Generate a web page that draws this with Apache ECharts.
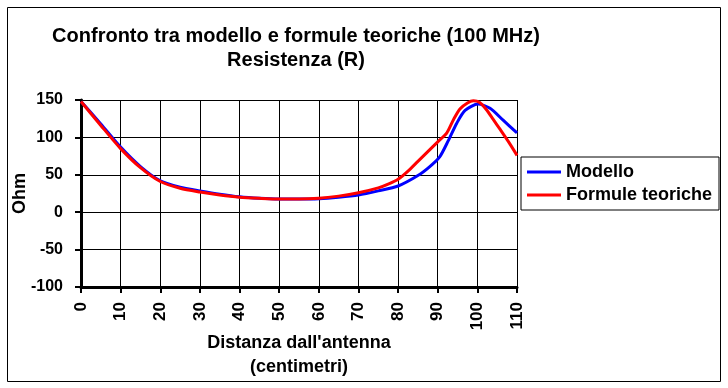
<!DOCTYPE html>
<html>
<head>
<meta charset="utf-8">
<script src="https://cdn.jsdelivr.net/npm/echarts@6/dist/echarts.min.js"></script>
<style>
  html, body { margin: 0; padding: 0; background: #fff; }
  #chart { width: 728px; height: 388px; }
</style>
</head>
<body>
<div id="chart"></div>
<script>
// ---- data ----
const titleLines = ['Confronto tra modello e formule teoriche (100 MHz)', 'Resistenza (R)'];
const xAxisTitle = "Distanza dall'antenna\n(centimetri)";
const yAxisTitle = 'Ohm';
const seriesNames = ['Modello', 'Formule teoriche'];

const distanzaModello = [0, 5, 10, 15, 20, 25, 30, 35, 40, 45, 50, 55, 60, 65, 70, 75, 80, 85, 88, 90.5, 92.7, 94.8, 96.9, 100.2, 103.2, 106.5, 110];
const modello =         [148, 118, 87, 61, 42, 33.5, 28.5, 24, 20.5, 18.5, 17.5, 17.5, 18, 20, 23, 28.5, 35, 49, 61, 74, 96, 119, 136, 144.5, 139, 123, 106];

const distanzaFormule = [0, 5, 10, 15, 20, 25, 30, 35, 40, 45, 50, 55, 60, 65, 70, 75, 77.5, 80, 82.5, 85, 90, 92.3, 94, 95.6, 97.5, 99, 100.5, 102.3, 104, 105.7, 108, 110];
const formule =         [148, 116, 85, 59.5, 41, 32, 27, 23, 20, 18.5, 17.5, 17.5, 18.5, 21.5, 26, 32.5, 37.5, 44, 55, 68, 94, 106, 124, 138, 146, 149, 147, 137, 124, 111, 93, 76];

const xMin = 0, xMax = 110, xStep = 10;
const yMin = -100, yMax = 150, yStep = 50;

const chart = echarts.init(document.getElementById('chart'), null, { renderer: 'canvas' });
const FONT = '"Liberation Sans", Arial, sans-serif';

chart.setOption({
  animation: false,
  backgroundColor: '#ffffff',
  title: {
    text: titleLines.join('\n'),
    left: 296,
    top: 24,
    padding: 0,
    textAlign: 'center',
    textStyle: { fontFamily: FONT, fontWeight: 'bold', fontSize: 20, color: '#000', lineHeight: 24 }
  },
  graphic: [{
    type: 'rect',
    shape: { x: 7.5, y: 7.5, width: 713, height: 374 },
    style: { fill: 'none', stroke: '#000', lineWidth: 1 },
    silent: true,
    z: -10
  }],
  legend: {
    orient: 'vertical',
    left: 521,
    top: 157,
    padding: [5, 5, 5, 6],
    itemGap: 3,
    itemWidth: 34,
    itemHeight: 3,
    icon: 'rect',
    borderColor: '#000',
    borderWidth: 1,
    backgroundColor: '#fff',
    textStyle: { fontFamily: FONT, fontWeight: 'bold', fontSize: 18, color: '#000', lineHeight: 20, width: 148 },
    data: seriesNames
  },
  grid: { left: 81, right: 211, top: 100, bottom: 101, containLabel: false, outerBoundsMode: 'none' },
  xAxis: {
    type: 'value',
    min: xMin, max: xMax, interval: xStep,
    name: xAxisTitle,
    nameLocation: 'middle',
    nameGap: 44,
    nameMoveOverlap: false,
    nameTextStyle: { fontFamily: FONT, fontWeight: 'bold', fontSize: 18, color: '#000', lineHeight: 24 },
    axisLine: { show: true, onZero: false, lineStyle: { color: '#000', width: 3 } },
    axisTick: { show: true, length: 6, lineStyle: { color: '#000', width: 2 } },
    axisLabel: { rotate: 90, margin: 15, fontFamily: FONT, fontWeight: 'bold', fontSize: 17, color: '#000', showMinLabel: true, showMaxLabel: true },
    splitLine: { show: true, lineStyle: { color: '#000', width: 1 } }
  },
  yAxis: {
    type: 'value',
    min: yMin, max: yMax, interval: yStep,
    name: yAxisTitle,
    nameLocation: 'middle',
    nameGap: 52,
    nameMoveOverlap: false,
    nameTextStyle: { fontFamily: FONT, fontWeight: 'bold', fontSize: 18, color: '#000' },
    axisLine: { show: true, onZero: false, lineStyle: { color: '#000', width: 3 } },
    axisTick: { show: true, length: 6, lineStyle: { color: '#000', width: 2 } },
    axisLabel: { margin: 18, fontFamily: FONT, fontWeight: 'bold', fontSize: 16, color: '#000' },
    splitLine: { show: true, lineStyle: { color: '#000', width: 1 } }
  },
  series: [
    {
      name: seriesNames[0],
      type: 'line',
      data: distanzaModello.map((x, i) => [x, modello[i]]),
      showSymbol: false,
      smooth: 0.25,
      color: '#0000ff',
      lineStyle: { color: '#0000ff', width: 3 },
      z: 3
    },
    {
      name: seriesNames[1],
      type: 'line',
      data: distanzaFormule.map((x, i) => [x, formule[i]]),
      showSymbol: false,
      smooth: 0.25,
      color: '#ff0000',
      lineStyle: { color: '#ff0000', width: 3 },
      z: 4
    }
  ]
});
</script>
</body>
</html>
